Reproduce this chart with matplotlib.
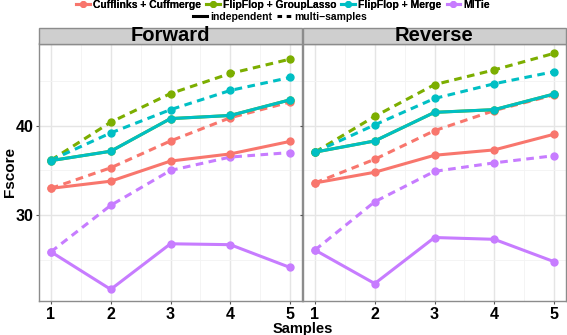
import matplotlib.pyplot as plt
from matplotlib.lines import Line2D
from matplotlib.patches import Rectangle

samples = [1, 2, 3, 4, 5]
methods = ["Cufflinks + Cuffmerge", "FlipFlop + GroupLasso", "FlipFlop + Merge", "MITie"]
colors = ["#F8766D", "#7CAE00", "#00BFC4", "#C77CFF"]
panels = ["Forward", "Reverse"]

# Fscore per method: independent (solid) and multi-samples (dashed)
fwd_indep = {
    "Cufflinks + Cuffmerge": [33.0, 33.8, 36.05, 36.85, 38.25],
    "FlipFlop + GroupLasso": [36.1, 37.15, 40.8, 41.15, 42.9],
    "FlipFlop + Merge": [36.1, 37.15, 40.8, 41.15, 42.9],
    "MITie": [25.9, 21.7, 26.8, 26.7, 24.15],
}
fwd_multi = {
    "Cufflinks + Cuffmerge": [33.0, 35.3, 38.3, 40.9, 42.65],
    "FlipFlop + GroupLasso": [36.15, 40.4, 43.6, 45.85, 47.45],
    "FlipFlop + Merge": [36.15, 39.2, 41.8, 43.95, 45.4],
    "MITie": [25.9, 31.1, 35.0, 36.5, 37.0],
}
rev_indep = {
    "Cufflinks + Cuffmerge": [33.6, 34.8, 36.7, 37.3, 39.05],
    "FlipFlop + GroupLasso": [37.05, 38.3, 41.5, 41.8, 43.55],
    "FlipFlop + Merge": [37.05, 38.3, 41.5, 41.8, 43.55],
    "MITie": [26.1, 22.35, 27.5, 27.3, 24.8],
}
rev_multi = {
    "Cufflinks + Cuffmerge": [33.6, 36.25, 39.45, 41.7, 43.45],
    "FlipFlop + GroupLasso": [37.05, 41.05, 44.6, 46.25, 48.1],
    "FlipFlop + Merge": [37.05, 40.1, 43.05, 44.7, 46.05],
    "MITie": [26.1, 31.5, 34.9, 35.85, 36.65],
}

plt.rcParams["font.family"] = "Liberation Sans"
plt.rcParams["font.weight"] = "bold"

W, H = 567, 335
fig = plt.figure(figsize=(W / 100, H / 100), dpi=100)

lw = 2.2
ms = 5
dash = (2.5, 1.8)

ymin, ymax = 20.4, 49.2
for i, (name, indep, multi) in enumerate([("Forward", fwd_indep, fwd_multi), ("Reverse", rev_indep, rev_multi)]):
    left = [39, 303][i]
    right = [302, 566][i]
    top, bottom = 43.5, 301
    ax = fig.add_axes([left / W, 1 - bottom / H, (right - left) / W, (bottom - top) / H])
    ax.set_xlim(0.8, 5.2)
    ax.set_ylim(ymin, ymax)
    ax.set_xticks(samples)
    ax.set_yticks([30, 40])
    ax.set_xticks([1.5, 2.5, 3.5, 4.5], minor=True)
    ax.set_yticks([25, 35, 45], minor=True)
    ax.grid(True, which="major", color="#E5E5E5", lw=1.0)
    ax.grid(True, which="minor", color="#F3F3F3", lw=0.6)
    ax.set_axisbelow(True)
    for s in ax.spines.values():
        s.set_color("#8C8C8C")
        s.set_linewidth(1.0)
    ax.tick_params(which="both", length=0, labelsize=11.5, pad=1.5)
    ax.tick_params(which="major", length=2.5, color="#555555")
    if i == 1:
        ax.set_yticklabels([])
    for m, c in zip(methods, colors):
        ax.plot(samples, multi[m], color=c, lw=lw, ls="--", dashes=dash,
                marker="o", ms=ms, zorder=3)
    for m, c in zip(methods, colors):
        ax.plot(samples, indep[m], color=c, lw=lw, ls="-",
                marker="o", ms=ms, zorder=4)
    # strip
    fig.patches.append(Rectangle((left / W, 1 - 43.5 / H), (right - left) / W, 15.5 / H,
                                 transform=fig.transFigure, facecolor="#CFCFCF",
                                 edgecolor="#8C8C8C", lw=1.0))
    fig.text((left + right) / 2 / W, 1 - 35.5 / H, name, ha="center", va="center",
             fontsize=14.5, fontweight="bold")

fig.text(303 / W, 1 - 329 / H, "Samples", ha="center", va="center", fontsize=10.5, fontweight="bold")
fig.text(10 / W, 1 - 172 / H, "Fscore", ha="center", va="center", rotation=90,
         fontsize=11, fontweight="bold")

h1 = [Line2D([], [], color=c, lw=lw, marker="o", ms=4) for c in colors]
leg1 = fig.legend(h1, methods, loc="center", bbox_to_anchor=(283 / W, 1 - 5 / H), ncol=4,
                  frameon=False, fontsize=7.5, handlelength=1.3, handletextpad=0.3,
                  columnspacing=0.5, borderpad=0, borderaxespad=0)
h2 = [Line2D([], [], color="black", lw=lw), Line2D([], [], color="black", lw=lw, ls="--", dashes=(1.5, 1.5))]
leg2 = fig.legend(h2, ["independent", "multi\u2212samples"], loc="center", bbox_to_anchor=(280 / W, 1 - 17 / H),
                  ncol=2, frameon=False, fontsize=7.5, handlelength=1.3, handletextpad=0.3,
                  columnspacing=0.5, borderpad=0, borderaxespad=0)
fig.add_artist(leg1)
for leg in (leg1, leg2):
    for t in leg.get_texts():
        t.set_fontweight("bold")

fig.savefig("out.png", dpi=100)
